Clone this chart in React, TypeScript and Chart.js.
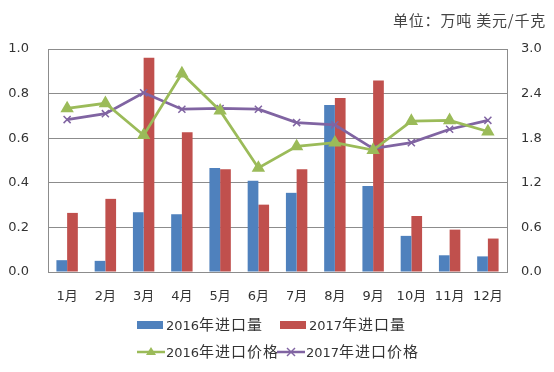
import React, { useEffect, useRef } from "react";
import { Chart, registerables } from "chart.js";

Chart.register(...registerables);

const months = ["1月", "2月", "3月", "4月", "5月", "6月", "7月", "8月", "9月", "10月", "11月", "12月"];
const import2016 = [0.053, 0.05, 0.268, 0.259, 0.466, 0.409, 0.355, 0.749, 0.386, 0.162, 0.075, 0.07];
const import2017 = [0.265, 0.328, 0.961, 0.627, 0.461, 0.302, 0.461, 0.78, 0.859, 0.251, 0.19, 0.15];
const price2016 = [2.2, 2.27, 1.84, 2.67, 2.17, 1.4, 1.69, 1.74, 1.64, 2.03, 2.04, 1.89];
const price2017 = [2.05, 2.13, 2.41, 2.19, 2.2, 2.19, 2.01, 1.98, 1.66, 1.74, 1.92, 2.04];

const label2016Vol = "2016年进口量";
const label2017Vol = "2017年进口量";
const label2016Price = "2016年进口价格";
const label2017Price = "2017年进口价格";
const unitText = "单位：万吨 美元/千克";

const BLUE = "#4F81BD";
const RED = "#C0504D";
const GREEN = "#9BBB59";
const PURPLE = "#8064A2";
const GRID = "#8c8c8c";
const TEXT = "#333333";
const FONT = "'DejaVu Sans', 'Noto Sans CJK SC', sans-serif";

function MixedText({ text }: { text: string }) {
  const parts: { s: string; cjk: boolean }[] = [];
  for (const ch of text) {
    const cjk = ch.charCodeAt(0) > 255;
    const last = parts[parts.length - 1];
    if (last && last.cjk === cjk) last.s += ch;
    else parts.push({ s: ch, cjk });
  }
  return (
    <span>
      {parts.map((p, i) =>
        p.cjk ? (
          <span key={i} style={{ fontFamily: "'Noto Sans CJK SC', sans-serif", fontSize: 15, letterSpacing: 1 }}>
            {p.s}
          </span>
        ) : (
          <span key={i} style={{ fontFamily: "'DejaVu Sans', sans-serif", fontSize: 13 }}>
            {p.s}
          </span>
        )
      )}
    </span>
  );
}

function LegendItem({ x, y, color, kind, text }: { x: number; y: number; color: string; kind: string; text: string }) {
  let icon: React.ReactNode;
  if (kind === "bar") {
    icon = (
      <svg width={28} height={20} style={{ display: "block" }}>
        <rect x={0} y={6} width={26} height={8} fill={color} />
      </svg>
    );
  } else if (kind === "tri") {
    icon = (
      <svg width={28} height={20} style={{ display: "block" }}>
        <line x1={0} y1={10} x2={28} y2={10} stroke={color} strokeWidth={2.5} />
        <polygon points="14,5 19,13 9,13" fill={color} />
      </svg>
    );
  } else {
    icon = (
      <svg width={28} height={20} style={{ display: "block" }}>
        <line x1={0} y1={10} x2={28} y2={10} stroke={color} strokeWidth={2.5} />
        <line x1={10} y1={6} x2={18} y2={14} stroke={color} strokeWidth={1.5} />
        <line x1={18} y1={6} x2={10} y2={14} stroke={color} strokeWidth={1.5} />
      </svg>
    );
  }
  return (
    <div
      style={{
        position: "absolute",
        left: x,
        top: y - 10,
        height: 20,
        display: "flex",
        alignItems: "center",
        color: TEXT,
        whiteSpace: "nowrap",
      }}
    >
      {icon}
      <div style={{ marginLeft: 1, lineHeight: "20px" }}>
        <MixedText text={text} />
      </div>
    </div>
  );
}

export default function App() {
  const canvasRef = useRef<HTMLCanvasElement | null>(null);

  useEffect(() => {
    document.body.style.margin = "0";
    const ctx = canvasRef.current;
    if (!ctx) return;
    const chart = new Chart(ctx, {
      type: "bar",
      data: {
        labels: months,
        datasets: [
          {
            type: "line",
            label: label2016Price,
            data: price2016,
            yAxisID: "y1",
            borderColor: GREEN,
            backgroundColor: GREEN,
            borderWidth: 2.75,
            pointStyle: "triangle",
            pointRadius: 5,
            pointBackgroundColor: GREEN,
            pointBorderColor: GREEN,
            tension: 0,
            order: 0,
          },
          {
            type: "line",
            label: label2017Price,
            data: price2017,
            yAxisID: "y1",
            borderColor: PURPLE,
            backgroundColor: PURPLE,
            borderWidth: 2.75,
            pointStyle: "crossRot",
            pointRadius: 5,
            pointBorderWidth: 1.5,
            pointBorderColor: PURPLE,
            tension: 0,
            order: 0,
          },
          {
            type: "bar",
            label: label2016Vol,
            data: import2016,
            yAxisID: "y",
            backgroundColor: BLUE,
            categoryPercentage: 0.56,
            barPercentage: 1.0,
            order: 1,
          },
          {
            type: "bar",
            label: label2017Vol,
            data: import2017,
            yAxisID: "y",
            backgroundColor: RED,
            categoryPercentage: 0.56,
            barPercentage: 1.0,
            order: 1,
          },
        ],
      },
      options: {
        animation: false,
        responsive: false,
        maintainAspectRatio: false,
        layout: { padding: { top: 49, left: 0, right: 0, bottom: 0 } },
        plugins: {
          legend: { display: false },
          tooltip: { enabled: false },
        },
        scales: {
          x: {
            grid: { display: false, drawTicks: false },
            border: { display: true, color: GRID, width: 1 },
            ticks: { color: TEXT, font: { family: FONT, size: 13 }, padding: 17, maxRotation: 0 },
            afterFit: (s: any) => {
              s.height = 100;
            },
          },
          y: {
            position: "left",
            min: 0,
            max: 1,
            grid: { color: GRID, lineWidth: 1, drawTicks: false },
            border: { display: true, color: GRID, width: 1 },
            ticks: {
              stepSize: 0.2,
              color: TEXT,
              font: { family: FONT, size: 13 },
              padding: 19,
              callback: (v: any) => Number(v).toFixed(1),
            },
            afterFit: (s: any) => {
              s.width = 48;
            },
          },
          y1: {
            position: "right",
            min: 0,
            max: 3,
            grid: { display: false, drawTicks: false },
            border: { display: true, color: GRID, width: 1 },
            ticks: {
              stepSize: 0.6,
              color: TEXT,
              font: { family: FONT, size: 13 },
              padding: 14,
              callback: (v: any) => Number(v).toFixed(1),
            },
            afterFit: (s: any) => {
              s.width = 47;
            },
          },
        },
      },
    });
    return () => chart.destroy();
  }, []);

  return (
    <div style={{ position: "relative", width: 554, height: 372, background: "#fff", overflow: "hidden" }}>
      <canvas ref={canvasRef} width={554} height={372} style={{ position: "absolute", left: 0, top: 0 }} />
      <div
        style={{
          position: "absolute",
          left: 393,
          top: 9,
          fontFamily: "'Noto Sans CJK SC', sans-serif",
          fontSize: 15,
          letterSpacing: 0.8,
          color: "#444",
          whiteSpace: "nowrap",
        }}
      >
        {unitText}
      </div>
      <LegendItem x={137} y={325} color={BLUE} kind="bar" text={label2016Vol} />
      <LegendItem x={280} y={325} color={RED} kind="bar" text={label2017Vol} />
      <LegendItem x={137} y={352} color={GREEN} kind="tri" text={label2016Price} />
      <LegendItem x={277} y={352} color={PURPLE} kind="cross" text={label2017Price} />
    </div>
  );
}
